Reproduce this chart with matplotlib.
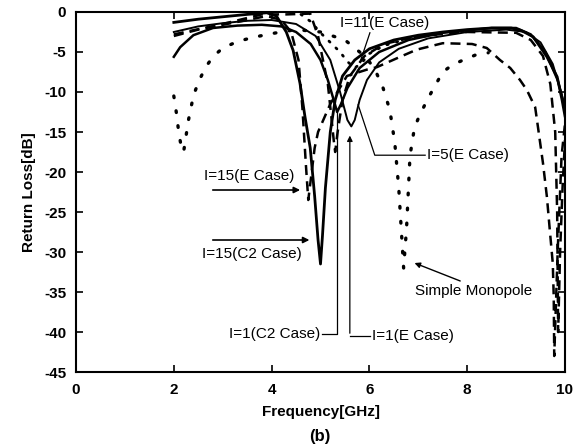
import matplotlib
matplotlib.use('Agg')
import matplotlib.pyplot as plt

plt.rcParams['font.family'] = ['Liberation Sans', 'DejaVu Sans']
plt.rcParams['axes.unicode_minus'] = False

# Simple monopole (dotted)
f_mono = [2.0, 2.05, 2.1, 2.15, 2.2, 2.25, 2.3, 2.4, 2.5, 2.65, 2.8, 3.0, 3.3, 3.6, 4.0,
          4.5, 5.0, 5.5, 5.9, 6.1, 6.28, 6.42, 6.52, 6.6, 6.66, 6.7, 6.76, 6.83, 6.92, 7.0,
          7.18, 7.5, 7.7, 7.92, 8.16, 8.43]
db_mono = [-10.5, -12.5, -15.0, -16.8, -17.5, -15.5, -13.5, -10.5, -8.8, -6.9, -5.6, -4.5,
           -3.7, -3.2, -2.7, -2.2, -2.5, -3.5, -5.5, -7.0, -9.5, -12.3, -16.4, -22.0, -28.0,
           -32.0, -27.0, -18.0, -14.5, -13.3, -11.0, -7.5, -6.6, -6.0, -5.4, -5.1]

# I=15 (C2 Case), solid
f_c2_15 = [2.0, 2.5, 3.0, 3.5, 3.9, 4.1, 4.3, 4.44, 4.58, 4.68, 4.79, 4.88, 4.95, 5.0, 5.04,
           5.1, 5.2, 5.3, 5.45, 5.7, 6.0, 6.5, 7.0, 7.5, 8.0, 8.5, 8.9, 9.1, 9.35, 9.63, 9.84,
           9.94, 10.0]
db_c2_15 = [-1.3, -0.9, -0.6, -0.3, -0.1, -0.5, -2.5, -4.8, -8.9, -13.0, -17.0, -23.0, -28.5,
            -31.5, -28.0, -22.0, -15.0, -11.0, -8.0, -6.0, -4.6, -3.5, -2.9, -2.5, -2.2, -2.0,
            -2.0, -2.3, -3.1, -5.6, -8.1, -11.0, -13.0]

# I=1 (C2 Case), solid
f_c2_1 = [2.0, 2.13, 2.4, 2.8, 3.3, 3.8, 4.2, 4.5, 4.8, 5.0, 5.15, 5.27, 5.34, 5.42, 5.55,
          5.8, 6.2, 6.8, 7.5, 8.5, 9.0, 9.3, 9.6, 9.85, 10.0]
db_c2_1 = [-5.6, -4.4, -2.9, -2.0, -1.7, -1.6, -1.8, -2.5, -4.0, -6.0, -8.5, -11.0, -12.5,
           -11.5, -9.5, -7.0, -5.0, -3.5, -2.6, -2.0, -2.0, -2.8, -5.0, -8.5, -12.0]

# I=1 (E Case), solid
f_e_1 = [2.0, 2.5, 3.0, 3.5, 4.0, 4.5, 4.9, 5.2, 5.4, 5.55, 5.63, 5.7, 5.8, 5.95, 6.2, 6.6,
         7.2, 8.0, 8.8, 9.2, 9.5, 9.75, 9.92, 10.0]
db_e_1 = [-2.5, -1.8, -1.4, -1.1, -1.0, -1.5, -3.0, -6.0, -10.0, -13.5, -14.3, -13.5, -11.0,
          -8.5, -6.3, -4.6, -3.3, -2.5, -2.2, -2.5, -3.8, -6.5, -10.0, -12.0]

# I=15 (E Case), dashed
f_e_15 = [2.0, 2.5, 3.0, 3.5, 3.9, 4.2, 4.4, 4.55, 4.63, 4.7, 4.75, 4.8, 4.88, 4.95, 5.2,
          5.54, 5.95, 6.15, 6.63, 6.97, 7.5, 8.1, 8.4, 8.67, 8.88, 9.08, 9.22, 9.39, 9.45,
          9.55, 9.63, 9.69, 9.75, 9.77, 9.78, 9.85, 9.93, 10.0]
db_e_15 = [-3.0, -2.2, -1.6, -1.0, -0.5, -1.0, -2.5, -6.0, -12.0, -19.0, -23.5, -21.0, -17.0,
           -15.0, -11.5, -8.0, -7.2, -6.9, -5.6, -4.7, -3.9, -4.0, -4.5, -6.0, -7.0, -8.5,
           -9.75, -11.9, -14.5, -18.9, -23.1, -27.3, -31.4, -35.6, -43.0, -30.0, -18.0, -14.0]

# second dashed curve
f_dash2 = [2.0, 3.0, 3.8, 4.3, 4.79, 4.95, 5.05, 5.15, 5.22, 5.27, 5.3, 5.35, 5.45, 5.6, 5.9,
           6.3, 7.0, 8.0, 9.0, 9.3, 9.55, 9.7, 9.8, 9.84, 9.86, 9.9, 9.95, 10.0]
db_dash2 = [-2.8, -1.5, -0.3, -0.3, -0.2, -3.0, -6.0, -9.0, -13.0, -16.0, -17.5, -15.0, -11.0,
            -8.0, -5.5, -4.0, -3.0, -2.5, -2.6, -3.5, -5.5, -9.0, -15.0, -25.0, -40.0, -30.0,
            -22.0, -16.0]

# I=11 (E Case), fine dotted
f_e_11 = [4.6, 4.8, 5.0, 5.2, 5.4, 5.55, 5.7, 5.85, 6.0, 6.3, 6.8, 7.5]
db_e_11 = [-0.3, -1.2, -2.6, -3.8, -5.0, -6.2, -7.0, -6.3, -5.2, -4.2, -3.3, -2.7]

fig = plt.figure(figsize=(5.79, 4.46), dpi=100)
ax = fig.add_axes([0.1313, 0.1659, 0.8445, 0.8072])

ax.plot(f_mono, db_mono, color='black', lw=2.4, linestyle=(0, (0.5, 4.0)),
        dash_capstyle='round')
ax.plot(f_c2_15, db_c2_15, color='black', lw=2.0)
ax.plot(f_c2_1, db_c2_1, color='black', lw=1.8)
ax.plot(f_e_1, db_e_1, color='black', lw=1.4)
ax.plot(f_e_15, db_e_15, color='black', lw=1.8, linestyle=(0, (4, 2.5)))
ax.plot(f_dash2, db_dash2, color='black', lw=1.8, linestyle=(0, (4, 2.5)))
ax.plot(f_e_11, db_e_11, color='black', lw=2.0, linestyle=(0, (0.5, 3.0)),
        dash_capstyle='round')

ax.set_xlim(0, 10)
ax.set_ylim(-45, 0)
ax.set_xticks([0, 2, 4, 6, 8, 10])
ax.set_yticks([0, -5, -10, -15, -20, -25, -30, -35, -40, -45])
ax.tick_params(direction='in', top=True, right=True, length=5, width=1.2,
               labelsize=11)
ax.tick_params(axis='x', pad=8)
ax.tick_params(axis='y', pad=7)
for lbl in ax.get_xticklabels() + ax.get_yticklabels():
    lbl.set_fontweight('bold')
for sp in ax.spines.values():
    sp.set_linewidth(1.5)

ax.set_xlabel('Frequency[GHz]', fontsize=11, fontweight='bold', labelpad=6)
ax.set_ylabel('Return Loss[dB]', fontsize=11, fontweight='bold', labelpad=6)
fig.text(0.553, 0.022, '(b)', ha='center', va='center', fontsize=12, fontweight='bold')

# annotations
kw = dict(fontsize=11, color='black')
ax.text(5.4, -1.4, 'I=11(E Case)', ha='left', va='center', **kw)
ax.plot([6.01, 5.81], [-2.6, -6.25], color='black', lw=0.9)

ax.text(7.18, -17.9, 'I=5(E Case)', ha='left', va='center', **kw)
ax.plot([5.77, 6.11, 7.14], [-11.6, -17.9, -17.9], color='black', lw=0.9)

ax.text(3.55, -20.5, 'I=15(E Case)', ha='center', va='center', **kw)
ax.annotate('', xy=(4.64, -22.25), xytext=(2.74, -22.25),
            arrowprops=dict(arrowstyle='-|>', color='black', lw=1.2, mutation_scale=9))

ax.text(3.6, -30.25, 'I=15(C2 Case)', ha='center', va='center', **kw)
ax.annotate('', xy=(4.83, -28.5), xytext=(2.74, -28.5),
            arrowprops=dict(arrowstyle='-|>', color='black', lw=1.2, mutation_scale=9))

ax.text(4.99, -40.25, 'I=1(C2 Case)', ha='right', va='center', **kw)
ax.plot([5.03, 5.34, 5.34], [-40.25, -40.25, -12.5], color='black', lw=0.9)

ax.text(6.05, -40.5, 'I=1(E Case)', ha='left', va='center', **kw)
ax.plot([6.01, 5.6], [-40.5, -40.5], color='black', lw=0.9)
ax.annotate('', xy=(5.6, -15.1), xytext=(5.6, -40.5),
            arrowprops=dict(arrowstyle='-|>', color='black', lw=0.9, mutation_scale=8))

ax.text(6.93, -34.9, 'Simple Monopole', ha='left', va='center', **kw)
ax.annotate('', xy=(6.87, -31.25), xytext=(7.91, -33.75),
            arrowprops=dict(arrowstyle='-|>', color='black', lw=1.0, mutation_scale=8))

fig.savefig('out.png', dpi=100)
